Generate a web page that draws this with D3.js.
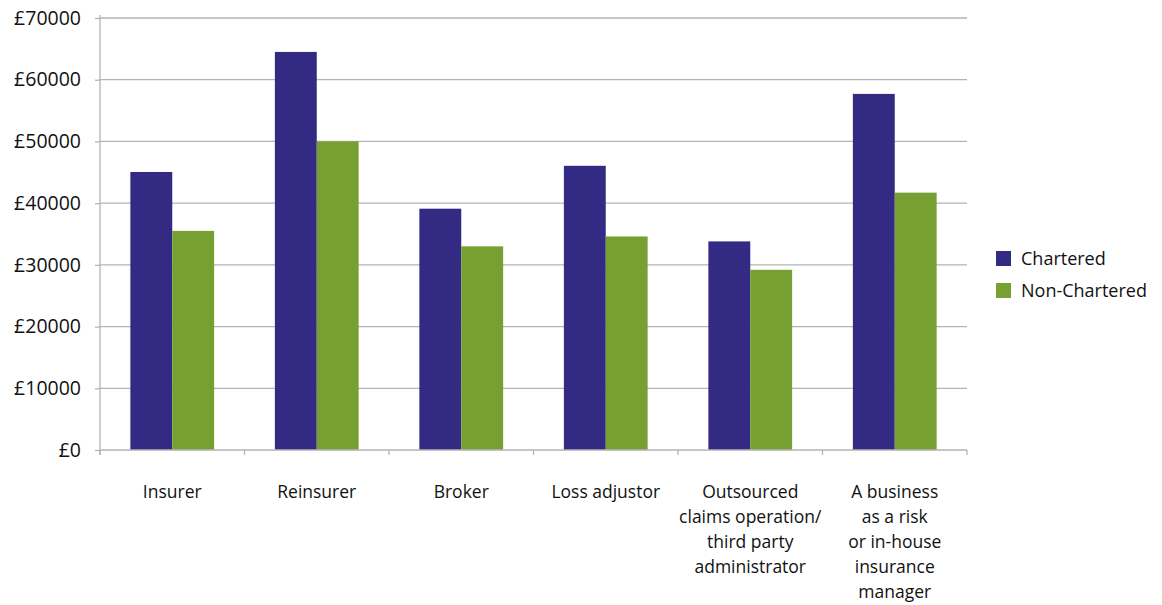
<!DOCTYPE html>
<html><head><meta charset="utf-8">
<script src="https://cdn.jsdelivr.net/npm/d3@7"></script>
<style>body{margin:0;background:#fff;} text{font-family:"Open Sans","Noto Sans",sans-serif;fill:#111;}</style>
</head><body><svg id="c" width="1162" height="605"></svg>
<script>
const categories = [
  ["Insurer"],
  ["Reinsurer"],
  ["Broker"],
  ["Loss adjustor"],
  ["Outsourced","claims operation/","third party","administrator"],
  ["A business","as a risk","or in-house","insurance","manager"]
];
const seriesNames = ["Chartered","Non-Chartered"];
const chartered = [45050, 64500, 39100, 46050, 33800, 57700];
const nonChartered = [35500, 50000, 33000, 34600, 29200, 41700];
const yTicks = [0,10000,20000,30000,40000,50000,60000,70000];
const colors = ["#332a83","#76a031"];

(function(){
const svg = d3.select("#c");
const mLeft=100, mRight=967, mTop=18, mBottom=450;
const x = d3.scaleBand().domain(d3.range(categories.length)).range([mLeft,mRight]).paddingInner(0).paddingOuter(0);
const y = d3.scaleLinear().domain([0,70000]).range([mBottom,mTop]);
const inner = d3.scaleBand().domain([0,1]).range([0,x.bandwidth()]).paddingOuter(0.725).paddingInner(0);

svg.append("g").selectAll("line").data(yTicks.slice(1)).join("line")
  .attr("x1",mLeft).attr("x2",mRight).attr("y1",d=>y(d)).attr("y2",d=>y(d))
  .attr("stroke","#b3b3b3").attr("stroke-width",1.3);

const data=[chartered,nonChartered];
const g = svg.append("g");
data.forEach((arr,si)=>{
  g.selectAll(null).data(arr).join("rect")
    .attr("x",(d,i)=>x(i)+inner(si)).attr("width",inner.bandwidth())
    .attr("y",d=>y(d)).attr("height",d=>mBottom-y(d)).attr("fill",colors[si]);
});

const ya = svg.append("g").attr("transform",`translate(${mLeft},0)`)
  .call(d3.axisLeft(y).tickValues(yTicks).tickSize(5).tickPadding(14).tickFormat(d=>"£"+d));
ya.select(".domain").attr("stroke","#b3b3b3").attr("stroke-width",1.3).attr("d",`M0,${mTop-3}V${mBottom+5}`);
ya.selectAll(".tick line").attr("stroke","#b3b3b3").attr("stroke-width",1.3);
ya.selectAll(".tick text").style("font-size","19.5px").attr("fill","#111");

svg.append("line").attr("x1",mLeft).attr("x2",mRight).attr("y1",mBottom).attr("y2",mBottom).attr("stroke","#b3b3b3").attr("stroke-width",1.3);
svg.append("g").selectAll("line").data(d3.range(categories.length+1)).join("line")
  .attr("x1",i=>mLeft+i*x.step()).attr("x2",i=>mLeft+i*x.step()).attr("y1",mBottom).attr("y2",mBottom+5)
  .attr("stroke","#b3b3b3").attr("stroke-width",1.3);

const labels = svg.append("g").selectAll("text").data(categories).join("text")
  .attr("text-anchor","middle").style("font-size","17.5px")
  .attr("x",(d,i)=>x(i)+x.bandwidth()/2).attr("y",498);
labels.each(function(lines){
  const t=d3.select(this);
  lines.forEach((l,j)=>t.append("tspan").attr("x",t.attr("x")).attr("y",498+j*25).text(l));
});

const lg = svg.append("g");
seriesNames.forEach((n,i)=>{
  lg.append("rect").attr("x",996).attr("y",251+i*32).attr("width",15).attr("height",15).attr("fill",colors[i]);
  lg.append("text").attr("x",1021).attr("y",265+i*32).style("font-size","18px").text(n);
});
})();
</script></body></html>
